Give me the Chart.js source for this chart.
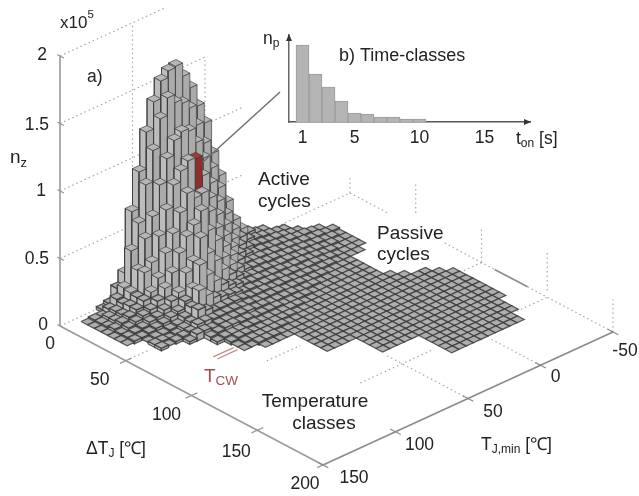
<!DOCTYPE html>
<html>
<head>
<meta charset="utf-8">
<title>Temperature and time classes</title>
<script src="https://cdn.jsdelivr.net/npm/chart.js@4"></script>
<style>
	html, body { margin: 0; padding: 0; background: #fff; }
	#wrap { position: relative; width: 639px; height: 496px; overflow: hidden; }
	canvas { position: absolute; filter: blur(0.7px); }
</style>
</head>
<body>
<div id="wrap">
	<canvas id="mainChart" width="639" height="496" style="left:0;top:0"></canvas>
	<canvas id="insetChart" width="290" height="150" style="left:270px;top:20px"></canvas>
</div>
<script>
// Axis ticks
const deltaTTicks = [0, 50, 100, 150, 200];
const tMinTicks = [150, 100, 50, 0, -50];
const zTicks = [0, 0.5, 1, 1.5, 2];
const zTickLabels = ['0', '0.5', '1', '1.5', '2'];

// Class width of both temperature axes, in degC
const classWidth = 5;
const redBar = [3, 15];

// First Tmin class of every DeltaT row, counted from Tmin = 150
const rowStart = [5, 2, 2, 2, 2, 2, 2, 2, 4, 4, 4, 7, 9, 9, 10, 10, 10, 12, 16, 16, 16, 16, 16, 20, 20, 20, 20, 25, 25, 25, 25, 25];

// Cycle counts per class in thousands, one row per DeltaT class
const countRows = [
	[2, 4, 13, 22, 65, 92, 119, 139, 152, 157, 158, 148, 137, 121, 106, 81, 62, 40, 24, 15, 10, 7, 6],
	[1, 2, 2, 5, 10, 16, 41, 59, 85, 108, 129, 142, 136, 133, 127, 112, 96, 75, 58, 36, 22, 14, 10, 8, 7, 6, 5, 4],
	[1, 2, 4, 6, 9, 15, 29, 50, 64, 85, 102, 113, 117, 115, 104, 90, 69, 53, 33, 20, 13, 9, 8, 7, 6, 6, 5, 4, 3],
	[1, 2, 4, 6, 10, 14, 30, 35, 52, 69, 85, 93, 98, 97, 82, 63, 48, 30, 19, 12, 9, 7, 7, 6, 6, 5, 5, 4, 4, 3, 2],
	[1, 3, 5, 7, 10, 14, 18, 26, 42, 54, 67, 79, 73, 74, 58, 43, 27, 18, 12, 8, 7, 7, 6, 6, 5, 5, 4, 4, 3, 3, 2, 2],
	[1, 2, 4, 6, 8, 10, 14, 21, 30, 42, 52, 58, 66, 49, 39, 24, 16, 11, 8, 7, 7, 6, 6, 5, 5, 4, 4, 3, 3, 2, 2, 1],
	[1, 2, 3, 4, 6, 7, 10, 14, 18, 30, 36, 51, 37, 29, 20, 14, 10, 7, 6, 6, 6, 5, 5, 5, 4, 4, 3, 3, 2, 2, 1, 1],
	[1, 2, 2, 3, 4, 5, 7, 9, 14, 21, 36, 26, 19, 14, 11, 9, 7, 6, 6, 5, 5, 5, 4, 4, 4, 3, 3, 2, 2, 1, 1, 1],
	[1, 2, 2, 3, 4, 7, 12, 22, 16, 12, 10, 9, 8, 6, 6, 5, 5, 5, 4, 4, 4, 3, 3, 3, 2, 2, 1, 1, 1, 1],
	[2, 2, 1, 2, 4, 6, 13, 10, 7, 7, 7, 7, 6, 5, 5, 5, 4, 4, 4, 3, 3, 3, 2, 2, 2, 1, 1, 1, 1],
	[2, 1, 2, 3, 4, 7, 7, 6, 6, 6, 6, 5, 5, 4, 4, 4, 4, 3, 3, 3, 2, 2, 2, 1, 1, 1, 1],
	[2, 5, 5, 4, 5, 5, 5, 5, 5, 4, 4, 3, 3, 3, 3, 2, 2, 2, 1, 1, 1, 1, 1, 1],
	[3, 4, 5, 5, 4, 4, 3, 3, 3, 3, 2, 2, 2, 2, 1, 1, 1, 1, 1, 1, 1, 1],
	[2, 3, 3, 3, 3, 3, 2, 2, 2, 2, 2, 2, 1, 1, 1, 1, 1, 1, 1, 1, 1, 1],
	[2, 3, 3, 2, 2, 2, 2, 2, 2, 1, 1, 1, 1, 1, 1, 1, 1, 1, 1, 1, 1],
	[1, 2, 2, 2, 2, 2, 2, 1, 1, 1, 1, 1, 1, 1, 1, 1, 1, 1, 1, 1, 1, 1],
	[1, 1, 2, 2, 2, 1, 1, 1, 1, 1, 1, 1, 1, 1, 1, 1, 1, 1, 1, 1, 1, 1, 1],
	[1, 1, 1, 1, 1, 1, 1, 1, 1, 1, 1, 1, 1, 1, 1, 1, 1, 1, 1, 1, 1, 1, 1],
	[1, 1, 1, 1, 1, 1, 1, 1, 1, 1, 1, 1, 1, 1, 1, 1, 1, 1, 1, 1],
	[1, 1, 1, 1, 1, 1, 1, 1, 1, 1, 1, 1, 1, 1, 1, 1, 1, 1, 1, 1, 1],
	[1, 1, 1, 1, 1, 1, 1, 1, 1, 1, 1, 1, 1, 1, 1, 1, 1, 1, 1, 1, 1],
	[1, 1, 1, 1, 1, 1, 1, 1, 1, 1, 1, 1, 1, 1, 1, 1, 1, 1, 1, 1, 1],
	[1, 1, 1, 1, 1, 1, 1, 1, 1, 1, 1, 1, 1, 1, 1, 1, 1, 1, 1, 1, 1],
	[1, 1, 1, 1, 1, 1, 1, 1, 1, 1, 1, 1, 1, 1, 1, 1, 1],
	[1, 1, 1, 1, 1, 1, 1, 1, 1, 1, 1, 1, 1, 1, 1, 1, 1],
	[1, 1, 1, 1, 1, 1, 1, 1, 1, 1, 1, 1, 1, 1, 1, 1, 1],
	[1, 1, 1, 1, 1, 1, 1, 1, 1, 1, 1, 1, 1, 1, 1, 1, 1],
	[1, 1, 1, 1, 1, 1, 1, 1, 1, 1, 1],
	[1, 1, 1, 1, 1, 1, 1, 1, 1, 1, 1],
	[1, 1, 1, 1, 1, 1, 1, 1, 1, 1, 1],
	[1, 1, 1, 1, 1, 1, 1, 1, 1, 1],
	[1, 1, 1, 1, 1, 1, 1, 1, 1, 1]
];

// Inset b): number of cycles per on-time class (arbitrary units)
const tonClasses = [1, 2, 3, 4, 5, 6, 7, 8, 9, 10];
const npValues = [77, 48, 35, 21, 9, 8, 5, 5, 3, 3];
const tonTicks = [1, 5, 10, 15];

// Dotted wall and floor grid pieces: [dT, Tmin, z] to [dT, Tmin, z]
const gridSegments = [
	[[0, 150, 2], [0, 78, 2]],
	[[0, 150, 1.5], [0, 49, 1.5]],
	[[0, 150, 1], [0, 24, 1]],
	[[0, 150, 0.5], [0, 24, 0.5]],
	[[0, 150, 0], [0, -50, 0]],
	[[0, 100, 0], [0, 100, 2]],
	[[0, 50, 0], [0, 50, 1.5]],
	[[0, -50, 0], [0, -50, 0.11]],
	[[0, -50, 0], [30, -50, 0]],
	[[72, -50, 0], [110, -50, 0]],
	[[135, -50, 0], [200, -50, 0]],
	[[50, -50, 0.11], [50, -50, 0.34]],
	[[100, -50, 0], [100, -50, 0.25]],
	[[150, -50, 0.05], [150, -50, 0.35]],
	[[200, -50, 0], [200, -50, 0.24]],
	[[50, 150, 0], [50, 133, 0]],
	[[100, 98, 0], [100, 75, 0]],
	[[100, -35, 0], [100, -50, 0]],
	[[150, 79, 0], [150, 29, 0]],
	[[150, -29, 0], [150, -50, 0]],
	[[200, 50, 0], [138, 50, 0]],
	[[200, 0, 0], [162, 0, 0]]
];

// Oblique view of the box, expressed in the pixel-sized x/y scales
const view = { x0: 60, y0: 326, dTx: 1.315, dTy: 0.695, tx: 1.45, ty: -0.665, zPx: 135 };

function project(dT, tMin, z) {
	const t = 150 - tMin;
	return {
		x: view.x0 + dT * view.dTx + t * view.tx,
		y: view.y0 + dT * view.dTy + t * view.ty - z * view.zPx
	};
}

function polyline(points, color, width, dash) {
	return {
		data: points,
		showLine: true,
		fill: false,
		borderColor: color,
		borderWidth: width,
		borderDash: dash || [],
		pointRadius: 0,
		clip: false
	};
}

function face(points, color, edgeColor, edgeWidth) {
	return {
		data: points.concat([points[0]]),
		showLine: true,
		fill: 'shape',
		backgroundColor: color,
		borderColor: edgeColor,
		borderWidth: edgeWidth,
		pointRadius: 0,
		clip: false
	};
}

function countAt(i, j) {
	const row = countRows[i];
	if (!row) return 0;
	return row[j - rowStart[i]] || 0;
}

// Bars go back to front so nearer ones paint over farther ones
function buildBars() {
	const faces = [];
	countRows.forEach((row, i) => {
		for (let k = row.length - 1; k >= 0; k--) {
			const j = rowStart[i] + k;
			const z = row[k] / 100;
			const isRed = i === redBar[0] && j === redBar[1];
			const d0 = i * classWidth, d1 = d0 + classWidth;
			const t0 = 150 - j * classWidth, t1 = t0 - classWidth;
			const low = row[k] < 15;
			const edge = low ? 'rgba(55,55,55,0.8)' : 'rgba(60,60,60,0.85)';
			const width = low ? 1.3 : 0.8;
			// the flattest bars show no walls at this scale
			if (row[k] > 1 && countAt(i, j - 1) < row[k]) {
				faces.push(face([project(d0, t0, 0), project(d1, t0, 0), project(d1, t0, z), project(d0, t0, z)], isRed ? '#a33a35' : '#bcbcbc', edge, width));
			}
			if (row[k] > 1 && countAt(i + 1, j) < row[k]) {
				faces.push(face([project(d1, t0, 0), project(d1, t1, 0), project(d1, t1, z), project(d1, t0, z)], isRed ? '#8f2f2b' : '#ababab', edge, width));
			}
			faces.push(face([project(d0, t0, z), project(d1, t0, z), project(d1, t1, z), project(d0, t1, z)], isRed ? '#a33a35' : (low ? '#aeaeae' : '#b6b6b6'), edge, width));
		}
	});
	return faces;
}

function buildAxes() {
	const lines = [];
	lines.push(polyline([project(0, 150, 0), project(0, 150, 2)], '#9a9a9a', 1.6));
	lines.push(polyline([project(0, 150, 0), project(200, 150, 0)], '#9a9a9a', 1.6));
	lines.push(polyline([project(200, 150, 0), project(200, -50, 0)], '#8a8a8a', 1.6));
	zTicks.forEach(z => lines.push(polyline([project(-2, 150, z), project(3, 150, z)], '#9a9a9a', 1.2)));
	deltaTTicks.slice(1).forEach(d => lines.push(polyline([project(d, 154, 0), project(d, 146, 0)], '#9a9a9a', 1.2)));
	tMinTicks.forEach(t => lines.push(polyline([project(196, t, 0), project(204, t, 0)], '#8a8a8a', 1.2)));
	lines.push(polyline([project(110, -50, 0), project(135, -50, 0)], '#8a8a8a', 1.6));
	return lines;
}

function buildGrid() {
	return gridSegments.map(s => polyline([project(...s[0]), project(...s[1])], '#a8a8a8', 1.2, [1.5, 3]));
}

function buildAnnotations() {
	return [
		polyline([project(78, 115, 0), project(78, 101, 0)], '#c58b8b', 1.3),
		polyline([project(81, 115, 0), project(81, 101, 0)], '#c58b8b', 1.3),
		polyline([{ x: 203, y: 162 }, { x: 280, y: 92 }], '#707070', 1.5)
	];
}

const FONT = '"Liberation Sans", Arial, sans-serif';

function putText(ctx, parts, x, y, align) {
	// parts: [text, size, baseline shift]
	ctx.textBaseline = 'alphabetic';
	ctx.textAlign = 'left';
	let width = 0;
	parts.forEach(p => {
		ctx.font = p[1] + 'px ' + FONT;
		width += ctx.measureText(p[0]).width;
	});
	let cx = x;
	if (align === 'center') cx = x - width / 2;
	if (align === 'right') cx = x - width;
	parts.forEach(p => {
		ctx.font = p[1] + 'px ' + FONT;
		ctx.fillText(p[0], cx, y + (p[2] || 0));
		cx += ctx.measureText(p[0]).width;
	});
}

const labelsPlugin = {
	id: 'labels3d',
	afterDraw(chart) {
		const ctx = chart.ctx;
		ctx.save();
		ctx.fillStyle = '#222';
		const tickSize = 17.5, textSize = 19;

		// z axis
		const zOffsets = [[-12, -2], [-11, -1], [-14, -1], [-11, 0], [-13, -2]];
		zTicks.forEach((z, n) => {
			const p = project(0, 150, z);
			putText(ctx, [[zTickLabels[n], tickSize]], p.x + zOffsets[n][0], p.y + zOffsets[n][1] + 6, 'right');
		});
		putText(ctx, [['x10', 17], ['5', 11.5, -10]], 60, 28);
		putText(ctx, [['a)', 17.5]], 87, 82);
		putText(ctx, [['n', 19], ['z', 13, 4]], 10, 163);

		// DeltaT axis
		const dOffsets = [[-10, 17], [-26, 18], [-25, 18], [-21, 21], [-18, 18]];
		deltaTTicks.forEach((d, n) => {
			const p = project(d, 150, 0);
			putText(ctx, [[String(d), tickSize]], p.x + dOffsets[n][0], p.y + dOffsets[n][1] + 6, 'center');
		});
		putText(ctx, [['ΔT', 17.5], ['J', 12, 3], [' [℃]', 17.5]], 86, 454);

		// Tmin axis
		const tOffsets = [[31, 12], [24, 12], [25, 12], [15, 11], [12, 18]];
		tMinTicks.forEach((t, n) => {
			const p = project(200, t, 0);
			putText(ctx, [[String(t), tickSize]], p.x + tOffsets[n][0], p.y + tOffsets[n][1] + 6, 'center');
		});
		putText(ctx, [['T', 17.5], ['J,min', 12, 3], [' [℃]', 17.5]], 481, 450);

		// Notes
		putText(ctx, [['Active', textSize]], 258, 185);
		putText(ctx, [['cycles', textSize]], 258, 207);
		putText(ctx, [['Passive', textSize]], 377, 239);
		putText(ctx, [['cycles', textSize]], 377, 260);
		putText(ctx, [['Temperature', textSize]], 315, 407, 'center');
		putText(ctx, [['classes', textSize]], 324, 429, 'center');
		ctx.fillStyle = '#a34f4f';
		putText(ctx, [['T', textSize], ['CW', 13.5, 3]], 204, 382);

		// Inset captions
		ctx.fillStyle = '#222';
		putText(ctx, [['n', 17.5], ['p', 12, 3]], 263, 44);
		putText(ctx, [['b) Time-classes', 18]], 339, 61);
		putText(ctx, [['t', 17.5], ['on', 12, 3], [' [s]', 17.5]], 516, 144);
		ctx.restore();
	}
};

const allDatasets = buildGrid().concat(buildBars(), buildAnnotations(), buildAxes());

new Chart(document.getElementById('mainChart'), {
	type: 'scatter',
	data: { datasets: allDatasets.reverse() }, // dataset 0 is painted last
	options: {
		responsive: false,
		animation: false,
		events: [],
		parsing: false,
		layout: { padding: 0 },
		plugins: { legend: { display: false }, tooltip: { enabled: false } },
		scales: {
			x: { type: 'linear', min: 0, max: 639, display: false },
			y: { type: 'linear', min: 0, max: 496, reverse: true, display: false }
		}
	},
	plugins: [labelsPlugin]
});

const arrowPlugin = {
	id: 'arrows',
	afterDraw(chart) {
		const { ctx, chartArea: a } = chart;
		ctx.save();
		ctx.fillStyle = '#333';
		ctx.beginPath();
		ctx.moveTo(a.left - 3, a.top + 6);
		ctx.lineTo(a.left, a.top - 1);
		ctx.lineTo(a.left + 3, a.top + 6);
		ctx.closePath();
		ctx.fill();
		ctx.beginPath();
		ctx.moveTo(a.right - 6, a.bottom - 3);
		ctx.lineTo(a.right + 1, a.bottom);
		ctx.lineTo(a.right - 6, a.bottom + 3);
		ctx.closePath();
		ctx.fill();
		ctx.restore();
	}
};

new Chart(document.getElementById('insetChart'), {
	type: 'bar',
	data: {
		datasets: [{
			data: tonClasses.map((t, n) => ({ x: t, y: npValues[n] })),
			backgroundColor: '#b4b4b4',
			borderColor: '#9c9c9c',
			borderWidth: 1,
			barPercentage: 1,
			categoryPercentage: 1
		}]
	},
	options: {
		responsive: false,
		animation: false,
		events: [],
		layout: { padding: { top: 15, right: 30 } },
		plugins: { legend: { display: false }, tooltip: { enabled: false } },
		scales: {
			x: {
				type: 'linear',
				offset: false,
				min: -0.04,
				max: 18.5,
				afterBuildTicks: s => { s.ticks = tonTicks.map(v => ({ value: v })); },
				afterFit: s => { s.height = 48; },
				grid: { display: false, drawTicks: false, offset: false },
				border: { color: '#555', width: 1.5 },
				ticks: { color: '#222', padding: 6, maxRotation: 0, autoSkip: false, font: { family: FONT, size: 17.5 } }
			},
			y: {
				min: 0,
				max: 87,
				afterFit: s => { s.width = 19; },
				grid: { display: false, drawTicks: false },
				border: { color: '#666', width: 1.5 },
				ticks: { display: false }
			}
		}
	},
	plugins: [arrowPlugin]
});
</script>
</body>
</html>
